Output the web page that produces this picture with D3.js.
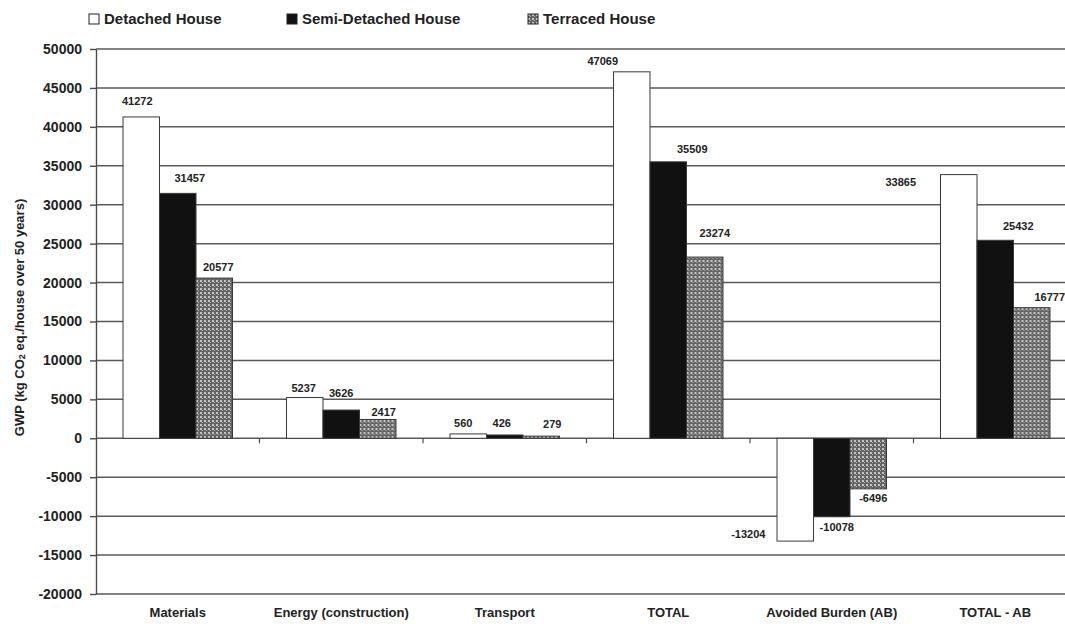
<!DOCTYPE html>
<html>
<head>
<meta charset="utf-8">
<script src="https://cdn.jsdelivr.net/npm/d3@7"></script>
<style>
  html, body { margin: 0; padding: 0; background: #fff; }
  svg { display: block; font-family: "Liberation Sans", Arial, sans-serif; }
</style>
</head>
<body>
<script>
// Global warming potential per house over 50 years, by life-cycle stage
const categories = ["Materials", "Energy (construction)", "Transport", "TOTAL", "Avoided Burden (AB)", "TOTAL - AB"];
const seriesNames = ["Detached House", "Semi-Detached House", "Terraced House"];
const detached     = [41272, 5237, 560, 47069, -13204, 33865];
const semiDetached = [31457, 3626, 426, 35509, -10078, 25432];
const terraced     = [20577, 2417, 279, 23274, -6496, 16777];
const yTicks = [-20000, -15000, -10000, -5000, 0, 5000, 10000, 15000, 20000, 25000, 30000, 35000, 40000, 45000, 50000];

// hand-placed value label offsets (px) from each bar's end, per series
const labelNudge = [
  [[-4, -16], [-1, -10], [-5, -11], [-29, -11], [-47, -7], [-58, 7]],
  [[12, -15], [0, -17], [-3, -12], [24, -13], [5, 10], [23, -14]],
  [[4, -11], [6, -7], [11, -12], [10, -24], [5, 9], [18, -11]]
];

const W = 1065, H = 626;
const plot = { left: 96, right: 1077, top: 49, bottom: 594 };

const svg = d3.select("body").append("svg").attr("width", W).attr("height", H);

// checker fill for the terraced series
const defs = svg.append("defs");
const pat = defs.append("pattern").attr("id", "checker")
  .attr("patternUnits", "userSpaceOnUse").attr("width", 4).attr("height", 4);
pat.append("rect").attr("width", 4).attr("height", 4).attr("fill", "#656565");
pat.append("rect").attr("x", 0).attr("y", 0).attr("width", 2).attr("height", 2).attr("fill", "#c4c4c4");
pat.append("rect").attr("x", 2).attr("y", 2).attr("width", 1).attr("height", 1).attr("fill", "#a8a8a8");

const fills = ["#ffffff", "#111111", "url(#checker)"];
const seriesValues = [detached, semiDetached, terraced];

const x0 = d3.scaleBand().domain(categories).range([plot.left, plot.right]).paddingInner(0).paddingOuter(0);
const x1 = d3.scaleBand().domain(seriesNames).range([0, x0.bandwidth()]).paddingInner(0).paddingOuter(0.74);
const y = d3.scaleLinear().domain([-20000, 50000]).range([plot.bottom, plot.top]);

// horizontal gridlines
svg.append("g").selectAll("line").data(yTicks).join("line")
  .attr("x1", plot.left).attr("x2", plot.right)
  .attr("y1", d => y(d)).attr("y2", d => y(d))
  .attr("stroke", "#5a5a5a").attr("stroke-width", 1.5);

// y axis
const yAxis = svg.append("g").attr("transform", `translate(${plot.left},0)`)
  .call(d3.axisLeft(y).tickValues(yTicks).tickSize(6).tickSizeOuter(0).tickPadding(8).tickFormat(d => String(d)));
yAxis.select(".domain").attr("stroke", "#4a4a4a").attr("stroke-width", 1.4);
yAxis.selectAll(".tick line").attr("stroke", "#4a4a4a").attr("stroke-width", 1.4);
yAxis.selectAll(".tick text").attr("font-size", 14).attr("font-weight", "bold").attr("fill", "#222");

// small category separators on the zero line
const sepX = categories.slice(1).map(c => x0(c));
svg.append("g").selectAll("line").data(sepX).join("line")
  .attr("x1", d => d).attr("x2", d => d)
  .attr("y1", y(0)).attr("y2", y(0) + 5)
  .attr("stroke", "#4a4a4a").attr("stroke-width", 1.2);

// bars
const groups = svg.append("g").selectAll("g").data(categories).join("g")
  .attr("transform", c => `translate(${x0(c)},0)`);

groups.each(function (c, ci) {
  const g = d3.select(this);
  seriesNames.forEach((s, si) => {
    const v = seriesValues[si][ci];
    g.append("rect")
      .attr("x", x1(s))
      .attr("width", x1.bandwidth())
      .attr("y", y(Math.max(0, v)))
      .attr("height", Math.abs(y(v) - y(0)))
      .attr("fill", fills[si])
      .attr("stroke", "#3a3a3a")
      .attr("stroke-width", 1);
  });
});

// value labels
groups.each(function (c, ci) {
  const g = d3.select(this);
  seriesNames.forEach((s, si) => {
    const v = seriesValues[si][ci];
    const [dx, dy] = labelNudge[si][ci];
    g.append("text")
      .attr("x", x1(s) + x1.bandwidth() / 2 + dx)
      .attr("y", y(v) + dy)
      .attr("text-anchor", "middle")
      .attr("dominant-baseline", "central")
      .attr("font-size", 11)
      .attr("font-weight", "bold")
      .attr("fill", "#222")
      .text(v);
  });
});

// category labels
const xAxis = svg.append("g").attr("transform", `translate(0,${plot.bottom})`)
  .call(d3.axisBottom(x0).tickSize(0).tickPadding(14));
xAxis.select(".domain").remove();
xAxis.selectAll(".tick text").attr("font-size", 13).attr("font-weight", "bold").attr("fill", "#222");

// y axis title
const title = svg.append("text")
  .attr("transform", `translate(19,${(plot.top + plot.bottom) / 2 - 4}) rotate(-90)`)
  .attr("text-anchor", "middle")
  .attr("dominant-baseline", "central")
  .attr("font-size", 13)
  .attr("font-weight", "bold")
  .attr("fill", "#222");
title.append("tspan").text("GWP (kg CO");
title.append("tspan").attr("font-size", 9).attr("dy", 3).text("2");
title.append("tspan").attr("dy", -3).text(" eq./house over 50 years)");

// legend
const legendX = [89, 287, 528];
const legend = svg.append("g").selectAll("g").data(seriesNames).join("g")
  .attr("transform", (d, i) => `translate(${legendX[i]},14)`);
legend.append("rect").attr("width", 10).attr("height", 10)
  .attr("fill", (d, i) => fills[i]).attr("stroke", "#222").attr("stroke-width", 1);
legend.append("text").attr("x", 15).attr("y", 10)
  .attr("font-size", 15).attr("font-weight", "bold").attr("fill", "#222")
  .text(d => d);
</script>
</body>
</html>
